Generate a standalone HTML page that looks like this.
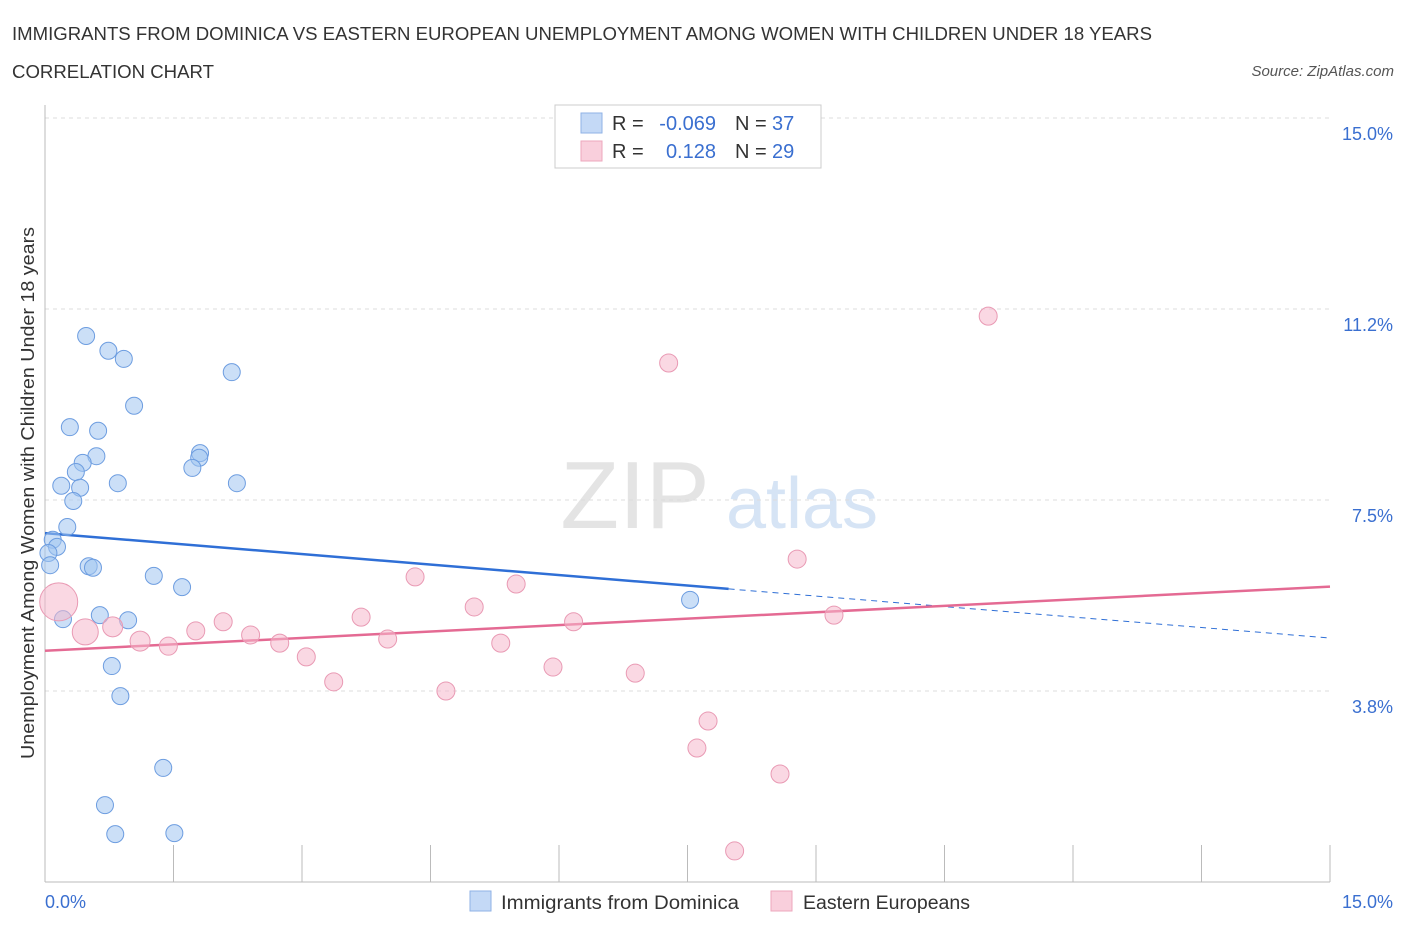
<!DOCTYPE html>
<html><head><meta charset="utf-8"><style>
body{margin:0;background:#fff;font-family:"Liberation Sans",sans-serif;}
svg text{font-family:"Liberation Sans",sans-serif;}
</style></head><body>
<svg id="chart" width="1406" height="930" xmlns="http://www.w3.org/2000/svg">
<text x="12" y="40" font-size="18" fill="#333" textLength="1140" lengthAdjust="spacingAndGlyphs">IMMIGRANTS FROM DOMINICA VS EASTERN EUROPEAN UNEMPLOYMENT AMONG WOMEN WITH CHILDREN UNDER 18 YEARS</text>
<text x="12" y="78" font-size="18" fill="#333" textLength="202" lengthAdjust="spacingAndGlyphs">CORRELATION CHART</text>
<text x="1394" y="76" font-size="15" fill="#555" font-style="italic" text-anchor="end">Source: ZipAtlas.com</text>
<g>
<text x="635" y="528" font-size="96" fill="#e4e4e4" text-anchor="middle" font-family="Liberation Serif">ZIP</text>
<text x="802" y="528" font-size="72" fill="#d6e4f5" text-anchor="middle">atlas</text>
</g>
<g id="grid"></g>
<g id="axes"></g>
<g id="trends"></g>
<g id="points"></g>
<text transform="translate(34,493) rotate(-90)" font-size="18" fill="#333" text-anchor="middle" textLength="532" lengthAdjust="spacingAndGlyphs">Unemployment Among Women with Children Under 18 years</text>
<g>
<rect x="555" y="105" width="266" height="63" fill="#fff" stroke="#ccc"/>
<rect x="581" y="113" width="21" height="20" fill="#c4d9f6" stroke="#8fb2e6"/>
<rect x="581" y="141" width="21" height="20" fill="#f9cfdc" stroke="#eda7bd"/>
<text x="612" y="130" font-size="20" fill="#333">R =</text>
<text x="716" y="130" font-size="20" fill="#3a6fd0" text-anchor="end">-0.069</text>
<text x="735" y="130" font-size="20" fill="#333">N =</text>
<text x="772" y="130" font-size="20" fill="#3a6fd0">37</text>
<text x="612" y="158" font-size="20" fill="#333">R =</text>
<text x="716" y="158" font-size="20" fill="#3a6fd0" text-anchor="end">0.128</text>
<text x="735" y="158" font-size="20" fill="#333">N =</text>
<text x="772" y="158" font-size="20" fill="#3a6fd0">29</text>
</g>
<g>
<rect x="470" y="891" width="21" height="20" fill="#c4d9f6" stroke="#8fb2e6"/>
<text x="501" y="909" font-size="19" fill="#333" textLength="238" lengthAdjust="spacingAndGlyphs">Immigrants from Dominica</text>
<rect x="771" y="891" width="21" height="20" fill="#f9cfdc" stroke="#eda7bd"/>
<text x="803" y="909" font-size="19" fill="#333" textLength="167" lengthAdjust="spacingAndGlyphs">Eastern Europeans</text>
</g>
</svg>
<script>
const yTicks=[15.0,11.2,7.5,3.8];
const yTickLabels=["15.0%","11.2%","7.5%","3.8%"];
const yGridVals=[15,11.25,7.5,3.75];
const xTickVals=[0,1.5,3,4.5,6,7.5,9,10.5,12,13.5,15];
const blueX=[0.48,0.74,0.92,2.18,1.04,0.29,0.62,0.60,0.44,0.36,0.19,0.41,0.33,0.85,1.81,1.80,1.72,2.24,0.26,0.09,0.14,0.04,0.06,0.51,0.56,1.27,1.60,0.64,0.97,0.21,0.78,0.88,1.38,0.70,0.82,1.51,7.53];
const blueY=[10.72,10.43,10.27,10.01,9.35,8.93,8.86,8.36,8.23,8.05,7.78,7.74,7.48,7.83,8.42,8.33,8.13,7.83,6.97,6.72,6.58,6.46,6.22,6.20,6.17,6.01,5.79,5.24,5.14,5.16,4.24,3.65,2.24,1.51,0.94,0.96,5.54];
const pinkX=[0.16,0.47,0.79,1.11,1.44,1.76,2.08,2.40,2.74,3.05,3.37,3.69,4.00,4.32,4.68,5.01,5.32,5.50,5.93,6.17,6.89,7.28,7.74,7.61,8.05,8.58,8.78,9.21,11.01];
const pinkY=[5.50,4.91,5.01,4.73,4.63,4.93,5.11,4.85,4.69,4.42,3.93,5.20,4.77,5.99,3.75,5.40,4.69,5.85,4.22,5.11,4.10,10.19,3.16,2.63,0.61,2.12,6.34,5.24,11.11];
const pinkR=[19,13,10,10,9,9,9,9,9,9,9,9,9,9,9,9,9,9,9,9,9,9,9,9,9,9,9,9,9];
const blueTrend=[6.85,4.79]; const blueSolidEnd=7.98;
const pinkTrend=[4.54,5.80];
const NS="http://www.w3.org/2000/svg";
const X=v=>45+v*(1285/15), Y=v=>882-v*(764/15);
function mk(t,a,p){const e=document.createElementNS(NS,t);for(const k in a)e.setAttribute(k,a[k]);p.appendChild(e);return e;}
const grid=document.getElementById('grid'),axes=document.getElementById('axes'),tr=document.getElementById('trends'),pts=document.getElementById('points');
yGridVals.forEach((v,i)=>{const l=mk('line',{x1:45,x2:1330,y1:Y(v),y2:Y(v),stroke:'#ddd','stroke-dasharray':'4,4'},grid);

const t=mk('text',{x:1393,y:Y(v)+22,'font-size':18,fill:'#3a6fd0','text-anchor':'end'},axes);t.textContent=yTickLabels[i];
});
const ax=mk('line',{x1:45,x2:45,y1:105,y2:882,stroke:'#bbb'},axes);
const bx=mk('line',{x1:45,x2:1330,y1:882,y2:882,stroke:'#bbb'},axes);
xTickVals.forEach(v=>{const l=mk('line',{x1:X(v),x2:X(v),y1:845,y2:882,stroke:'#bbb'},axes);});
[[0,'0.0%','start',45],[15,'15.0%','end',1393]].forEach(a=>{const t=mk('text',{x:a[3],y:908,'font-size':18,fill:'#3a6fd0','text-anchor':a[2]},axes);t.textContent=a[1];});
const by=v=>blueTrend[0]+(blueTrend[1]-blueTrend[0])*v/15;
let l1=mk('line',{x1:X(0),y1:Y(by(0)),x2:X(blueSolidEnd),y2:Y(by(blueSolidEnd)),stroke:'#2f6fd6','stroke-width':2.5},tr);

let l2=mk('line',{x1:X(blueSolidEnd),y1:Y(by(blueSolidEnd)),x2:X(15),y2:Y(by(15)),stroke:'#2f6fd6','stroke-width':1,'stroke-dasharray':'6,5'},tr);

let l3=mk('line',{x1:X(0),y1:Y(pinkTrend[0]),x2:X(15),y2:Y(pinkTrend[1]),stroke:'#e46a93','stroke-width':2.5},tr);

blueX.forEach((v,i)=>{const c=mk('circle',{cx:X(v),cy:Y(blueY[i]),r:8.5,fill:'rgba(160,196,240,0.55)',stroke:'#6d9de0','stroke-width':1},pts);
});
pinkX.forEach((v,i)=>{const c=mk('circle',{cx:X(v),cy:Y(pinkY[i]),r:pinkR[i],fill:'rgba(246,184,204,0.55)',stroke:'#e99ab4','stroke-width':1},pts);
});
</script>
</body></html>
